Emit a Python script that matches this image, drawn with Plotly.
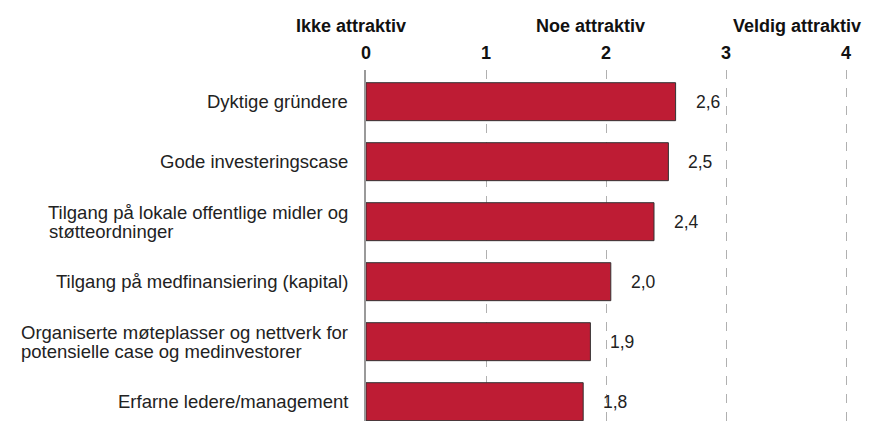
import plotly.graph_objects as go

categories = [
    "Dyktige gründere",
    "Gode investeringscase",
    "Tilgang på lokale offentlige midler og<br>støtteordninger",
    "Tilgang på medfinansiering (kapital)",
    "Organiserte møteplasser og nettverk for<br>potensielle case og medinvestorer",
    "Erfarne ledere/management",
]
values = [2.58, 2.52, 2.40, 2.04, 1.87, 1.81]
value_labels = ["2,6", "2,5", "2,4", "2,0", "1,9", "1,8"]
tick_vals = [0, 1, 2, 3, 4]
tick_labels = ["0", "1", "2", "3", "4"]
header_labels = ["Ikke attraktiv", "Noe attraktiv", "Veldig attraktiv"]
header_pos = [-0.031, 0.461, 0.887]

# pixel offset (from the x=0 axis) of the left edge of wrapped label blocks
wrap_left_shift = {2: -319.3, 4: -347.0}

BAR = "#BE1C34"
TEXT = "#222222"
FONT = "Liberation Sans, Arial, sans-serif"
BOLD = "Liberation Sans, Arial, sans-serif"
LABEL_SIZE = 18.5
LINE_GAP = 19.0

fig = go.Figure()
fig.add_trace(go.Bar(
    x=values, y=categories, orientation="h",
    marker=dict(color=BAR, line=dict(color="#333333", width=1)),
    width=0.633, hoverinfo="skip",
))

ann = []
lab_font = dict(family=FONT, size=LABEL_SIZE, color=TEXT)
for i, (c, v, t) in enumerate(zip(categories, values, value_labels)):
    ann.append(dict(x=v, y=c, xref="x", yref="y", text=t, showarrow=False,
                    xanchor="left", xshift=18, font=dict(family=FONT, size=17.5, color=TEXT)))
    if "<br>" in c:
        l1, l2 = c.split("<br>")
        ann.append(dict(x=0, y=c, xref="x", yref="y", text=l1, showarrow=False,
                        xanchor="right", xshift=-16, yshift=LINE_GAP / 2, font=lab_font))
        ann.append(dict(x=0, y=c, xref="x", yref="y", text=l2, showarrow=False,
                        xanchor="left", xshift=wrap_left_shift[i], yshift=-LINE_GAP / 2,
                        font=lab_font))
    else:
        ann.append(dict(x=0, y=c, xref="x", yref="y", text=c, showarrow=False,
                        xanchor="right", xshift=-16, font=lab_font))
for h, p in zip(header_labels, header_pos):
    ann.append(dict(x=p, y=1, xref="paper", yref="paper", text="<b>" + h + "</b>",
                    showarrow=False, xanchor="center", yanchor="middle", yshift=44,
                    font=dict(family=BOLD, size=18, color="#111111")))

fig.update_layout(
    width=869, height=421,
    margin=dict(l=366, r=17, t=70, b=0),
    paper_bgcolor="white", plot_bgcolor="white",
    showlegend=False,
    annotations=ann,
    xaxis=dict(
        side="top", range=[0, 4.05],
        tickvals=tick_vals, ticktext=["<b>" + t + "</b>" for t in tick_labels],
        tickfont=dict(family=BOLD, size=18, color="#111111"),
        ticks="outside", ticklen=3, tickcolor="rgba(0,0,0,0)",
        showgrid=True, gridcolor="#b0b0b0", gridwidth=1, griddash="dash",
        zeroline=False, showline=False,
    ),
    yaxis=dict(
        categoryorder="array", categoryarray=categories,
        range=[5.322, -0.528],
        showticklabels=False, showgrid=False, zeroline=False,
        showline=True, linecolor="#9a9a9a", linewidth=2,
    ),
)

fig.write_html("out.html", config={"displayModeBar": False},
               post_script="document.body.style.margin='0px';")
